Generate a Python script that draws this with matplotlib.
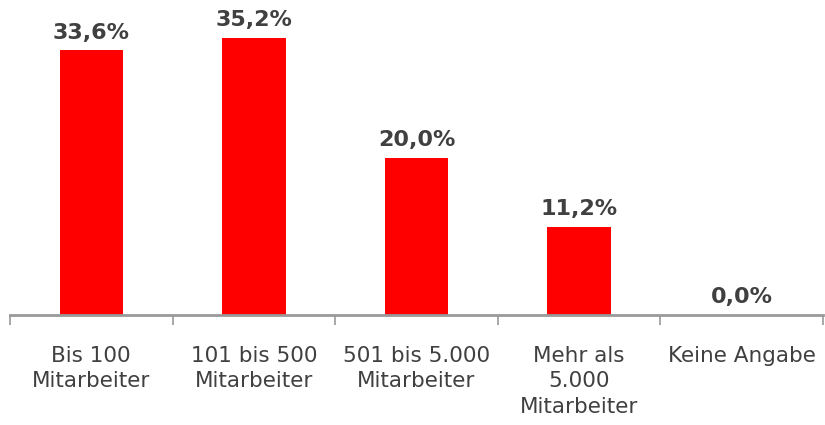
import matplotlib
matplotlib.use("Agg")
import matplotlib.pyplot as plt

# Daten
categories = ["Bis 100\nMitarbeiter", "101 bis 500\nMitarbeiter", "501 bis 5.000\nMitarbeiter",
              "Mehr als\n5.000\nMitarbeiter", "Keine Angabe"]
values = [33.6, 35.2, 20.0, 11.2, 0.0]

text_col = "#404040"
axis_col = "#999999"

fig = plt.figure(figsize=(8.25, 4.25), dpi=100)
ax = fig.add_axes([10 / 825, 110 / 425, 813 / 825, 315 / 425])

x = list(range(len(values)))
bars = ax.bar(x, values, width=0.39, color="#ff0000", zorder=2)

for xi, v in zip(x, values):
    ax.text(xi, v + 1.0, f"{v:.1f}%".replace(".", ","), ha="center", va="bottom",
            fontsize=16, fontweight="bold", color=text_col)

ax.set_xlim(-0.5, len(values) - 0.5)
ax.set_ylim(0, 40)

for s in ["top", "right", "left"]:
    ax.spines[s].set_visible(False)
ax.spines["bottom"].set_color(axis_col)
ax.spines["bottom"].set_linewidth(2)
ax.set_yticks([])

# Trennstriche zwischen den Kategorien
ax.set_xticks([i - 0.5 for i in range(len(values) + 1)], minor=True)
ax.tick_params(axis="x", which="minor", length=7, width=1.2, color=axis_col)
ax.set_xticks(x)
ax.set_xticklabels(categories, fontsize=15.5, color=text_col, linespacing=1.35)
ax.tick_params(axis="x", which="major", length=0, pad=22)

fig.savefig("out.png", dpi=100)
